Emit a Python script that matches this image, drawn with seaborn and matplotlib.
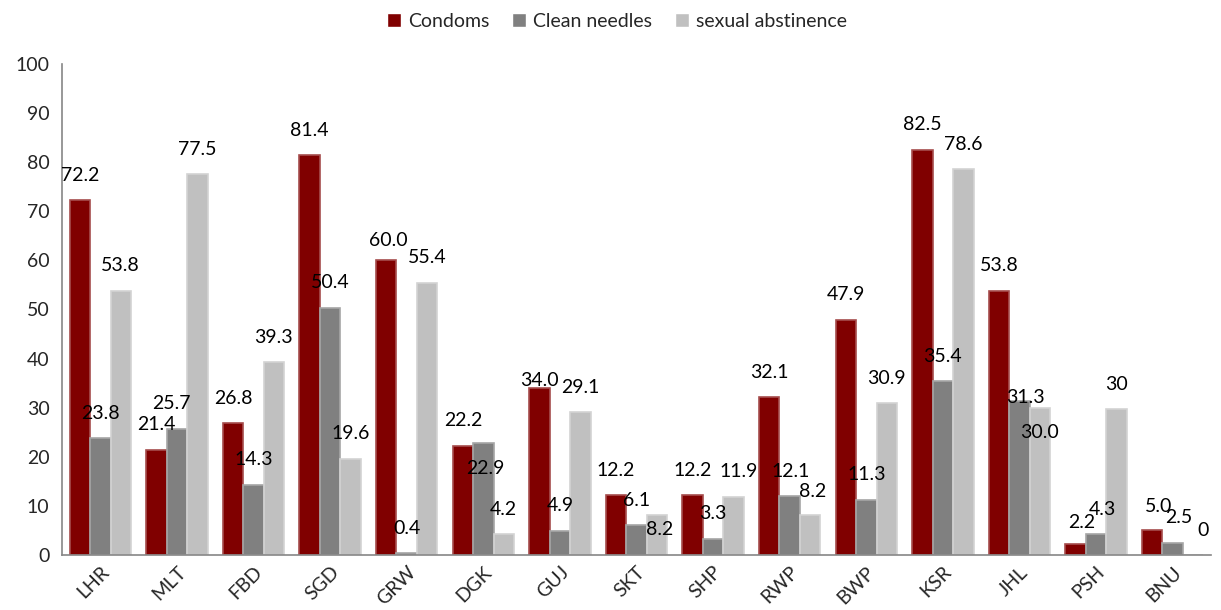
import numpy as np
import pandas as pd
import matplotlib
matplotlib.use('Agg')
import matplotlib.pyplot as plt
import matplotlib.colors as mcolors
import seaborn as sns

# Chart data
districts = ['LHR', 'MLT', 'FBD', 'SGD', 'GRW', 'DGK', 'GUJ', 'SKT',
             'SHP', 'RWP', 'BWP', 'KSR', 'JHL', 'PSH', 'BNU']
series = ['Condoms', 'Clean needles', 'sexual abstinence']
condoms = [72.2, 21.4, 26.8, 81.4, 60.0, 22.2, 34.0, 12.2, 12.2, 32.1, 47.9, 82.5, 53.8, 2.2, 5.0]
needles = [23.8, 25.7, 14.3, 50.4, 0.4, 22.9, 4.9, 6.1, 3.3, 12.1, 11.3, 35.4, 31.3, 4.3, 2.5]
abstinence = [53.8, 77.5, 39.3, 19.6, 55.4, 4.2, 29.1, 8.2, 11.9, 8.2, 30.9, 78.6, 30.0, 29.7, 0.0]
condom_labels = ['72.2', '21.4', '26.8', '81.4', '60.0', '22.2', '34.0', '12.2',
                 '12.2', '32.1', '47.9', '82.5', '53.8', '2.2', '5.0']
needle_labels = ['23.8', '25.7', '14.3', '50.4', '0.4', '22.9', '4.9', '6.1',
                 '3.3', '12.1', '11.3', '35.4', '31.3', '4.3', '2.5']
abstinence_labels = ['53.8', '77.5', '39.3', '19.6', '55.4', '4.2', '29.1', '8.2',
                     '11.9', '8.2', '30.9', '78.6', '30.0', '30', '0']

colors = ['#800000', '#808080', '#C0C0C0']

df = pd.DataFrame({
    'District': districts * 3,
    'Series': np.repeat(series, len(districts)),
    'Value': condoms + needles + abstinence,
})

sns.set_style('white')
plt.rcParams['font.family'] = ['Lato', 'DejaVu Sans']

fig = plt.figure(figsize=(12.21, 6.10), dpi=100)
ax = fig.add_axes([62 / 1221, 55 / 610, (1211 - 62) / 1221, (555 - 64) / 610])

sns.barplot(data=df, x='District', y='Value', hue='Series', palette=colors,
            width=0.8, gap=0, saturation=1, ax=ax, legend=True)

# lighter outline around each bar, like the original
for cont, c in zip(ax.containers, colors):
    edge = np.array(mcolors.to_rgb(c)) * 0.7 + 0.3
    for bar in cont:
        bar.set_edgecolor(edge)
        bar.set_linewidth(1.2)

# value labels (offsets in pixels from bar top centre; a few are nudged)
nudges = {
    (1, 1): (-6, 25), (4, 0): (2, 20), (5, 1): (2, -26), (6, 0): (0, 8),
    (7, 2): (3, -15), (8, 2): (5, 25), (9, 1): (1, 24), (9, 2): (2, 23),
    (12, 1): (6, 4), (12, 2): (0, -25), (13, 0): (6, 22), (13, 1): (6, 24),
    (14, 0): (6, 24), (14, 1): (6, 25), (14, 2): (10, 25),
}
all_labels = [condom_labels, needle_labels, abstinence_labels]
for s, cont in enumerate(ax.containers):
    for i, bar in enumerate(cont):
        dx, dy = nudges.get((i, s), (0, 25))
        ax.annotate(all_labels[s][i],
                    (bar.get_x() + bar.get_width() / 2, bar.get_height()),
                    xytext=(dx, dy), textcoords='offset pixels',
                    ha='center', va='center', fontsize=14, color='black')

ax.set_ylim(0, 100)
ax.set_xlim(-0.5, len(districts) - 0.5)
ax.set_yticks(range(0, 101, 10))
ax.set_xlabel('')
ax.set_ylabel('')

# Excel-style ticks between categories
ax.set_xticks(np.arange(len(districts)))
ax.set_xticklabels(districts, rotation=45, ha='right', va='top', rotation_mode='anchor')
ax.set_xticks(np.arange(-0.5, len(districts), 1), minor=True)
ax.tick_params(axis='x', which='major', length=0, pad=6, labelsize=14)
ax.tick_params(axis='x', which='minor', length=7, width=1.2, color='#868686', direction='out')
ax.tick_params(axis='y', length=5, width=1.2, color='#868686', direction='out', labelsize=14, pad=4)

for side in ['top', 'right']:
    ax.spines[side].set_visible(False)
for side in ['left', 'bottom']:
    ax.spines[side].set_color('#868686')
    ax.spines[side].set_linewidth(1.2)

ax.legend(loc='upper center', bbox_to_anchor=(0.483, 1.14), ncol=3, frameon=False,
          fontsize=14, handlelength=0.7, handleheight=0.7, handletextpad=0.35,
          columnspacing=1.2)

fig.savefig('out.png', dpi=100)
